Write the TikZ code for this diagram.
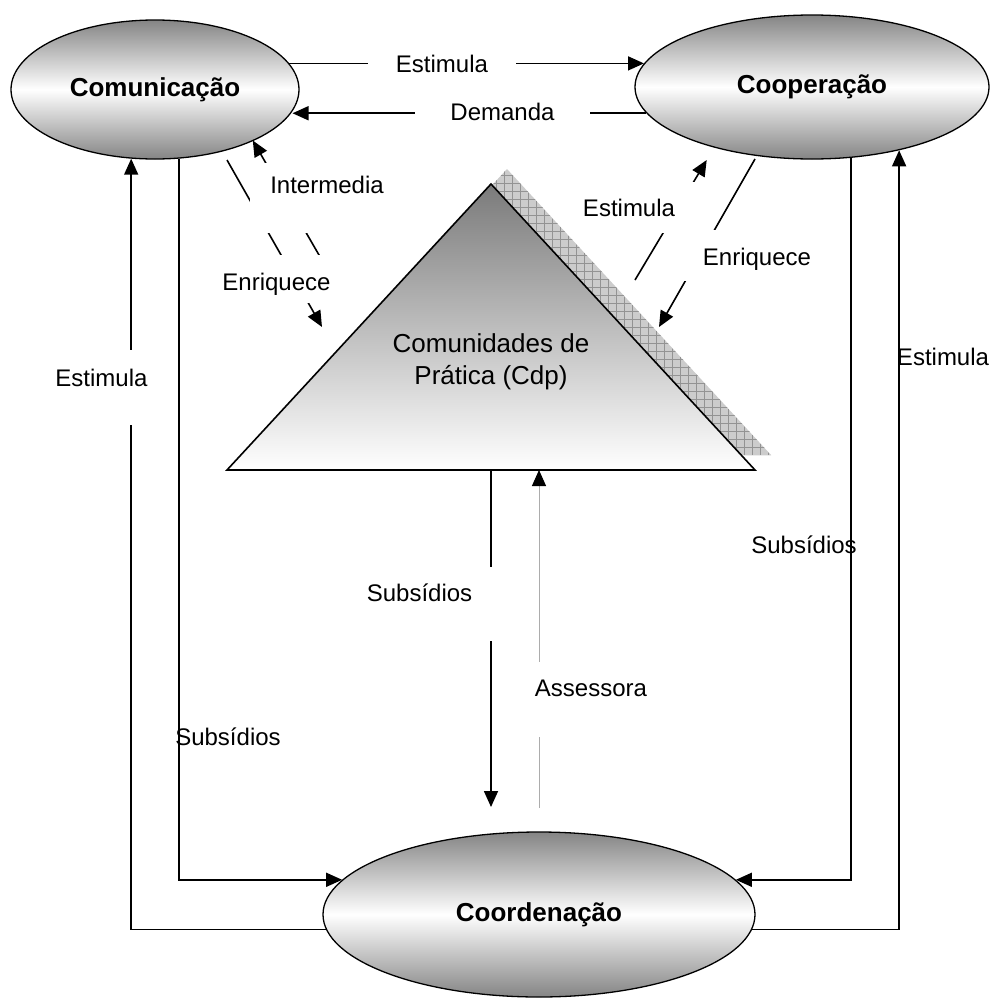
\documentclass[tikz,border=0pt]{standalone}
\usepackage{fontspec}
\setmainfont{Liberation Sans}
\usetikzlibrary{arrows.meta,patterns.meta,shapes.geometric}
\pgfdeclarelayer{lines}
\pgfdeclarelayer{labels}
\pgfsetlayers{lines,labels,main}
\begin{document}
\begin{tikzpicture}[x=1pt,y=-1pt,
  every node/.style={font=\fontsize{24}{28}\selectfont},
  ell/.style={ellipse, draw, line width=1.3pt, inner sep=0pt,
    top color=black!48, bottom color=black!48, middle color=white,
    font=\fontsize{26}{30}\selectfont\bfseries},
  conn/.style={line width=1.6pt},
  arr/.style={conn, -{Triangle[length=16pt,width=14pt]}},
  gaplbl/.style={fill=white, inner ysep=0pt, anchor=base},
  plainlbl/.style={inner sep=0pt, anchor=base},
]
\useasboundingbox (0,0) rectangle (990,999);

% ---------- shapes ----------
\node[ell, minimum width=288pt, minimum height=139pt] (comm) at (155,89.5) {Comunicação};
\node[ell, minimum width=354pt, minimum height=144pt] (coop) at (812,87) {Cooperação};
\node[ell, minimum width=432pt, minimum height=165pt] (coord) at (539,914.5) {Coordenação};

\coordinate (apex) at (491,184);
\coordinate (bl) at (227,470);
\coordinate (br) at (755,470);
\coordinate (sapex) at (507,169);
\coordinate (sbl) at (243,455);
\coordinate (sbr) at (771,455);
\fill[gray!40] (sapex) -- (sbl) -- (sbr) -- cycle;
\fill[pattern={Hatch[distance=8pt,line width=0.6pt]}, pattern color=gray!85] (sapex) -- (sbl) -- (sbr) -- cycle;
\shadedraw[top color=black!52, bottom color=white, line width=1.6pt, line join=miter] (apex) -- (bl) -- (br) -- cycle;
\node[align=center, font=\fontsize{26}{32}\selectfont] (cdp) at (491,362) {Comunidades de\\Prática (Cdp)};

% ---------- free ends ----------
\coordinate (enrLs) at (227,160);
\coordinate (enrLe) at (322,327);
\coordinate (ints) at (324.8,265);
\coordinate (inte) at (252.8,140.5);
\coordinate (estRs) at (635,280);
\coordinate (estRe) at (706.7,160);
\coordinate (enrRs) at (755,159);
\coordinate (enrRe) at (659,327);
\coordinate (subCe) at (491,807);
\coordinate (assS) at (539,808);

% ---------- connectors ----------
\begin{pgfonlayer}{lines}
\draw[arr] (comm.11) -- (comm.11 -| coop.172);
\draw[arr] (coop.189) -- (coop.189 -| comm.351);
\draw[arr] (enrLs) -- (enrLe);
\draw[arr] (ints) -- (inte);
\draw[arr] (estRs) -- (estRe);
\draw[arr] (enrRs) -- (enrRe);
\draw[arr] (comm.289) |- (coord.170);
\draw[arr] (coord.184) -| (comm.251);
\draw[arr] (coop.299) |- (coord.10);
\draw[arr] (coord.356) -| (coop.324);
\draw[arr] (apex |- bl) -- (subCe);
\draw[line width=1pt, gray!65, -{Triangle[length=16pt,width=14pt,color=black]}] (assS) -- (assS |- bl);
\end{pgfonlayer}

% ---------- labels ----------
\begin{pgfonlayer}{labels}
\node[gaplbl, inner xsep=28pt] (lest1) at (442,72.6) {Estimula};
\node[gaplbl, inner xsep=35pt] (ldem) at (502.5,120.3) {Demanda};
\node[gaplbl, inner xsep=2pt, text height=36.6pt, text depth=38.4pt] (lest2) at (101.5,386.6) {Estimula};
\node[gaplbl, inner xsep=20pt, text height=31pt, text depth=39.4pt] (lint) at (327,193.6) {Intermedia};
\node[gaplbl, inner xsep=5pt, text height=35pt, text depth=13pt] (lenr1) at (276.5,290) {Enriquece};
\node[gaplbl, inner xsep=20pt, text height=34.7pt, text depth=16.3pt] (lest3) at (629,216.7) {Estimula};
\node[gaplbl, inner xsep=19pt, text height=35pt, text depth=16pt] (lenr2) at (757,265) {Enriquece};
\node[gaplbl, inner xsep=21pt, text height=34.7pt, text depth=39.3pt] (lsub1) at (419.5,601.7) {Subsídios};
\node[gaplbl, inner xsep=2pt, text height=34.7pt, text depth=40.3pt] (lass) at (591,696.7) {Assessora};
\end{pgfonlayer}
\node[plainlbl] (lsub2) at (228,745) {Subsídios};
\node[plainlbl] (lsub3) at (804,553.3) {Subsídios};
\node[plainlbl] (lest4) at (943,365.6) {Estimula};
\end{tikzpicture}
\end{document}
